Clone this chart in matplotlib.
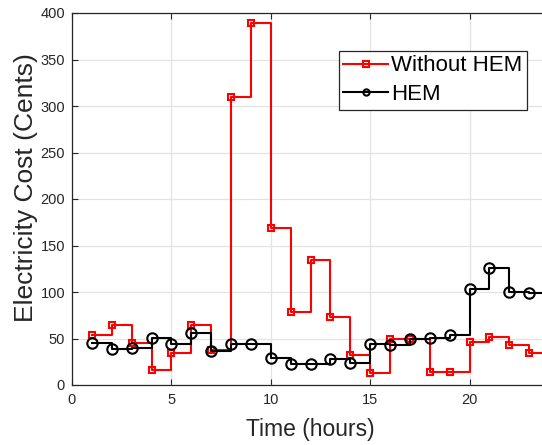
import matplotlib
matplotlib.use("Agg")
import matplotlib.pyplot as plt

hours = list(range(1, 25))
cost_without_hem = [54, 64, 45, 16, 34, 65, 38, 310, 389, 169, 79, 134,
                    73, 32, 13, 49, 49, 14, 14, 46, 52, 43, 34, 34]
cost_hem = [45, 39, 40, 51, 44, 56, 37, 44, 44, 29, 23, 23,
            28, 24, 44, 43, 49, 51, 54, 103, 126, 100, 99, 99]

plt.rcParams['font.family'] = ['Liberation Sans', 'DejaVu Sans']

fig = plt.figure(figsize=(5.42, 4.45), dpi=100)
W, H = 542, 445
ax_w = 24 * 19.88
ax_h = 385 - 13
ax = fig.add_axes([72 / W, (H - 385) / H, ax_w / W, ax_h / H])

ax.step(hours, cost_without_hem, where='post', color='red', lw=1.5,
        marker='s', ms=5, mfc='none', mew=1.5, label='Without HEM')
ax.step(hours, cost_hem, where='post', color='black', lw=1.5,
        marker='o', ms=7.5, mfc='none', mew=1.5, label='HEM')

ax.set_xlim(0, 24)
ax.set_ylim(0, 400)
ax.set_xticks([0, 5, 10, 15, 20])
ax.set_yticks(range(0, 401, 50))
ax.grid(True, color='#e3e3e3', lw=0.9)
ax.set_axisbelow(True)
ax.tick_params(direction='in', top=True, right=True, labelsize=10.5,
               colors='#262626', length=4)
ax.tick_params(axis='x', pad=6)
ax.tick_params(axis='y', pad=5)
for s in ax.spines.values():
    s.set_color('#262626')
    s.set_linewidth(0.9)

ax.set_xlabel('Time (hours)', fontsize=16.5, color='#262626', labelpad=8)
ax.set_ylabel('Electricity Cost (Cents)', fontsize=19, color='#262626')
ax.yaxis.set_label_coords((38 - 72) / ax_w, (385 - 188) / ax_h)

leg = ax.legend(loc='upper left',
                bbox_to_anchor=((339 - 72) / ax_w, 1 - (51 - 13) / ax_h),
                bbox_transform=ax.transAxes, fontsize=16, fancybox=False,
                framealpha=1, edgecolor='#262626', borderpad=0.2,
                handlelength=2.0, handletextpad=0.15, labelspacing=0.35,
                borderaxespad=0)
leg.get_frame().set_linewidth(0.9)
for h in leg.legend_handles:
    h.set_markersize(4.5)

fig.savefig('out.png', dpi=100)
